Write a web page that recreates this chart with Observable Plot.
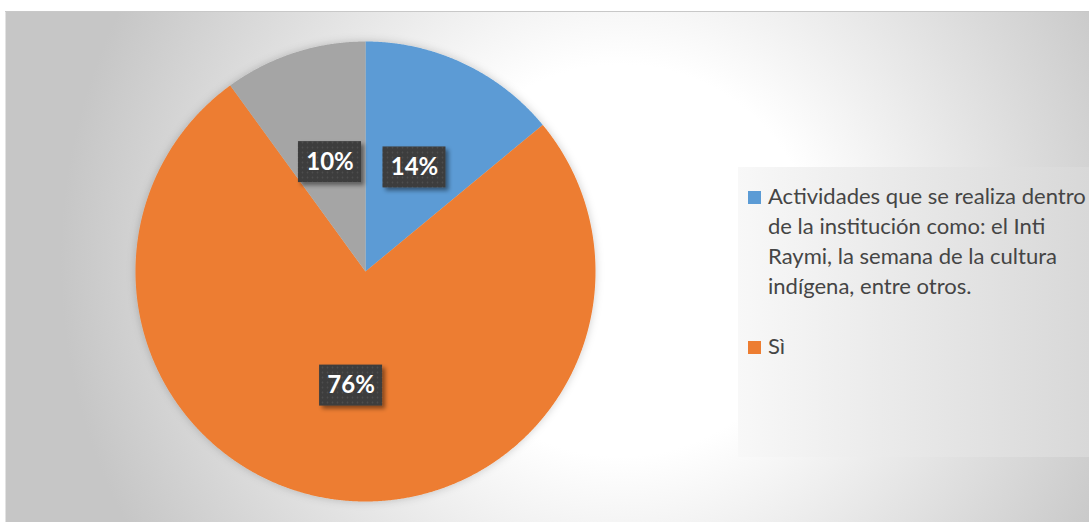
<!DOCTYPE html>
<html><head><meta charset="utf-8">
<script src="https://cdn.jsdelivr.net/npm/d3@7"></script>
<script src="https://cdn.jsdelivr.net/npm/@observablehq/plot@0.6"></script>
<style>
html,body{margin:0;padding:0;background:#fff;overflow:hidden;}
#wrap{position:relative;width:1089px;height:522px;overflow:hidden;}
#legend{position:absolute;left:738px;top:167px;width:351px;height:290px;background:linear-gradient(to right,#f8f8f8,#d8d8d8);}
.sw{position:absolute;left:10px;width:13px;height:13px;}
.lt{position:absolute;left:30px;width:322px;color:#454545;line-height:30px;font-family:Lato,"Noto Sans",sans-serif;white-space:normal;}
</style></head><body><div id="wrap"></div>
<script>
// ---- data ----
const categories = ["Actividades que se realiza dentro de la institución como: el Inti Raymi, la semana de la cultura indígena, entre otros.", "Sì", "No"];
const values = [14, 76, 10];
const colors = ["#5B9BD5", "#ED7D31", "#A5A5A5"];
const legendShown = 2; // entries visible in the (truncated) legend

// ---- layout ----
const W = 1089, H = 522, cx = 365, cy = 271, R = 230;
const data = categories.map((name, i) => ({name, value: values[i]}));
const arcs = d3.pie().sort(null).value(d => d.value)(data);

const pts = [];
arcs.forEach(p => {
  const n = Math.max(4, Math.ceil((p.endAngle - p.startAngle) / 0.005));
  pts.push({name: p.data.name, x: 0, y: 0});
  for (let i = 0; i <= n; i++) {
    const a = p.startAngle + (p.endAngle - p.startAngle) * i / n;
    pts.push({name: p.data.name, x: Math.sin(a), y: Math.cos(a)});
  }
  pts.push({name: p.data.name, x: 0, y: 0});
});
const mid = p => (p.startAngle + p.endAngle) / 2;

const svg = Plot.plot({
  width: W, height: H,
  marginTop: 11, marginLeft: 5, marginRight: 0, marginBottom: 0,
  x: {domain: [-1, 1], range: [cx - R, cx + R], axis: null},
  y: {domain: [-1, 1], range: [cy + R, cy - R], axis: null},
  color: {domain: categories, range: colors},
  style: {background: "white"},
  marks: [
    Plot.frame({fill: "url(#bg)", stroke: null}),
    Plot.line(pts, {x: "x", y: "y", z: "name", fill: "name", stroke: "none", curve: "linear"}),
    Plot.text(arcs, {
      x: p => 0.5 * Math.sin(mid(p)), y: p => 0.5 * Math.cos(mid(p)),
      text: p => p.data.value + "%",
      fill: "white", fontSize: 24, fontWeight: "bold", fontFamily: "Lato, 'Noto Sans', sans-serif"
    })
  ]
});
document.getElementById("wrap").appendChild(svg);

const s = d3.select(svg);
const defs = s.insert("defs", ":first-child");
const g = defs.append("radialGradient").attr("id", "bg").attr("gradientUnits", "userSpaceOnUse")
  .attr("cx", 620).attr("cy", 260).attr("r", 560);
g.append("stop").attr("offset", 0.35).attr("stop-color", "#ffffff");
g.append("stop").attr("offset", 1).attr("stop-color", "#c6c6c6");
const pat = defs.append("pattern").attr("id", "dots").attr("patternUnits", "userSpaceOnUse").attr("width", 5).attr("height", 5);
pat.append("rect").attr("width", 5).attr("height", 5).attr("fill", "#3d3d3d");
pat.append("circle").attr("cx", 2.5).attr("cy", 2.5).attr("r", 0.9).attr("fill", "#4e4e4e");
const f1 = defs.append("filter").attr("id", "pieShadow").attr("x", "-20%").attr("y", "-20%").attr("width", "140%").attr("height", "140%");
f1.append("feDropShadow").attr("dx", 0).attr("dy", 0).attr("stdDeviation", 4).attr("flood-color", "#000").attr("flood-opacity", 0.2);
const f2 = defs.append("filter").attr("id", "lblShadow").attr("x", "-30%").attr("y", "-30%").attr("width", "160%").attr("height", "160%");
f2.append("feDropShadow").attr("dx", 3).attr("dy", 3).attr("stdDeviation", 2).attr("flood-color", "#000").attr("flood-opacity", 0.45);

// pie group shadow
s.selectAll('g[aria-label="line"]').attr("filter", "url(#pieShadow)");

// label boxes behind text
const xs = svg.scale("x"), ys = svg.scale("y");
const textG = svg.querySelector('g[aria-label="text"]');
const boxG = d3.select(textG.parentNode).insert("g", () => textG);
arcs.forEach(p => {
  const px = xs.apply(0.5 * Math.sin(mid(p))), py = ys.apply(0.5 * Math.cos(mid(p)));
  boxG.append("rect").attr("x", px - 31.5).attr("y", py - 20.5).attr("width", 63).attr("height", 41)
    .attr("fill", "url(#dots)").attr("filter", "url(#lblShadow)");
});

// top border line of chart area
s.append("line").attr("x1", 5).attr("x2", W).attr("y1", 11.5).attr("y2", 11.5).attr("stroke", "#c8c8c8");

// ---- legend ----
const ctx = document.createElement("canvas").getContext("2d");
ctx.font = "100px Lato";
const firstLine = categories[0].split(" ").slice(0, 5).join(" ");
const fs = 100 * 318 / ctx.measureText(firstLine).width;
const leg = d3.select("#wrap").append("div").attr("id", "legend");
const tops = [24, 174];
data.slice(0, legendShown).forEach((d, i) => {
  leg.append("div").attr("class", "sw").style("top", tops[i] + "px").style("background", colors[i]);
  leg.append("div").attr("class", "lt").style("top", (tops[i] - 10) + "px").style("font-size", fs + "px").text(d.name);
});
</script></body></html>
